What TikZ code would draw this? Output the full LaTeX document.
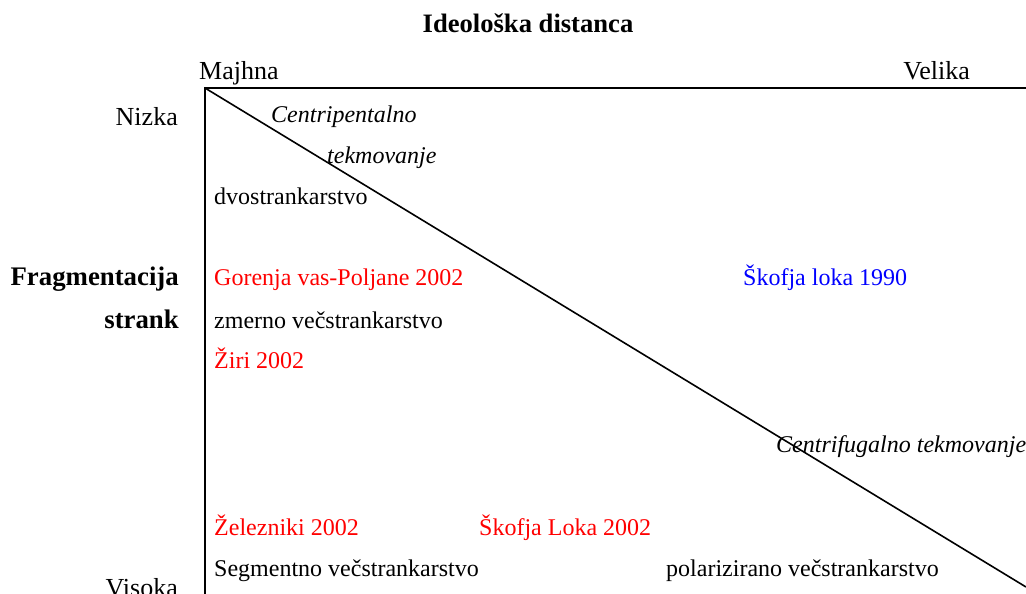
\documentclass[tikz,border=0pt]{standalone}
\usepackage{fontspec}
\setmainfont{Liberation Serif}
\begin{document}
\begin{tikzpicture}[x=1pt,y=-1pt,
  lbl/.style={inner sep=0pt,anchor=base west,font=\fontsize{26}{30}\selectfont},
  lblr/.style={inner sep=0pt,anchor=base east,font=\fontsize{26}{30}\selectfont},
  ttl/.style={inner sep=0pt,anchor=base east,font=\fontsize{26.8}{30}\selectfont\bfseries},
  txt/.style={inner sep=0pt,anchor=base west,font=\fontsize{24}{28}\selectfont},
  itxt/.style={inner sep=0pt,anchor=base west,font=\fontsize{24}{28}\selectfont\itshape},
  axis/.style={line width=1.8pt,black}]
\useasboundingbox (0,0) rectangle (1026,594);
\coordinate (O) at (205,88);
\coordinate (TR) at (1030,88);
\coordinate (BL) at (205,600);
\coordinate (BR) at (1026,587);
\draw[axis] (TR) -- (O) -- (BL);
\draw[line width=1.6pt] (O) -- (BR);
\node[inner sep=0pt,anchor=base,font=\fontsize{26.6}{30}\selectfont\bfseries] (title) at (528,33) {Ideološka distanca};
\node[lbl] (majhna) at (199,80) {Majhna};
\node[inner sep=0pt,anchor=base east,font=\fontsize{26}{30}\selectfont] (velika) at (970,80) {Velika};
\node[lblr] (nizka) at (178,125) {Nizka};
\node[ttl] (frag) at (179,285) {Fragmentacija};
\node[ttl] (strank) at (179,328) {strank};
\node[lblr] (visoka) at (178,596) {Visoka};
\node[itxt] (centp) at (271,122) {Centripentalno};
\node[itxt] (tekm) at (327,163) {tekmovanje};
\node[txt] (dvo) at (214,204) {dvostrankarstvo};
\node[txt,text=red] (gor) at (214,285) {Gorenja vas-Poljane 2002};
\node[txt,text=blue] (skl90) at (743,285) {Škofja loka 1990};
\node[txt] (zmer) at (214,328) {zmerno večstrankarstvo};
\node[txt,text=red] (ziri) at (214,368) {Žiri 2002};
\node[itxt] (centf) at (776,452) {Centrifugalno tekmovanje};
\node[txt,text=red] (zel) at (214,535) {Železniki 2002};
\node[txt,text=red] (skl02) at (479,535) {Škofja Loka 2002};
\node[txt] (seg) at (214,576) {Segmentno večstrankarstvo};
\node[txt] (pol) at (666,576) {polarizirano večstrankarstvo};
\end{tikzpicture}
\end{document}
